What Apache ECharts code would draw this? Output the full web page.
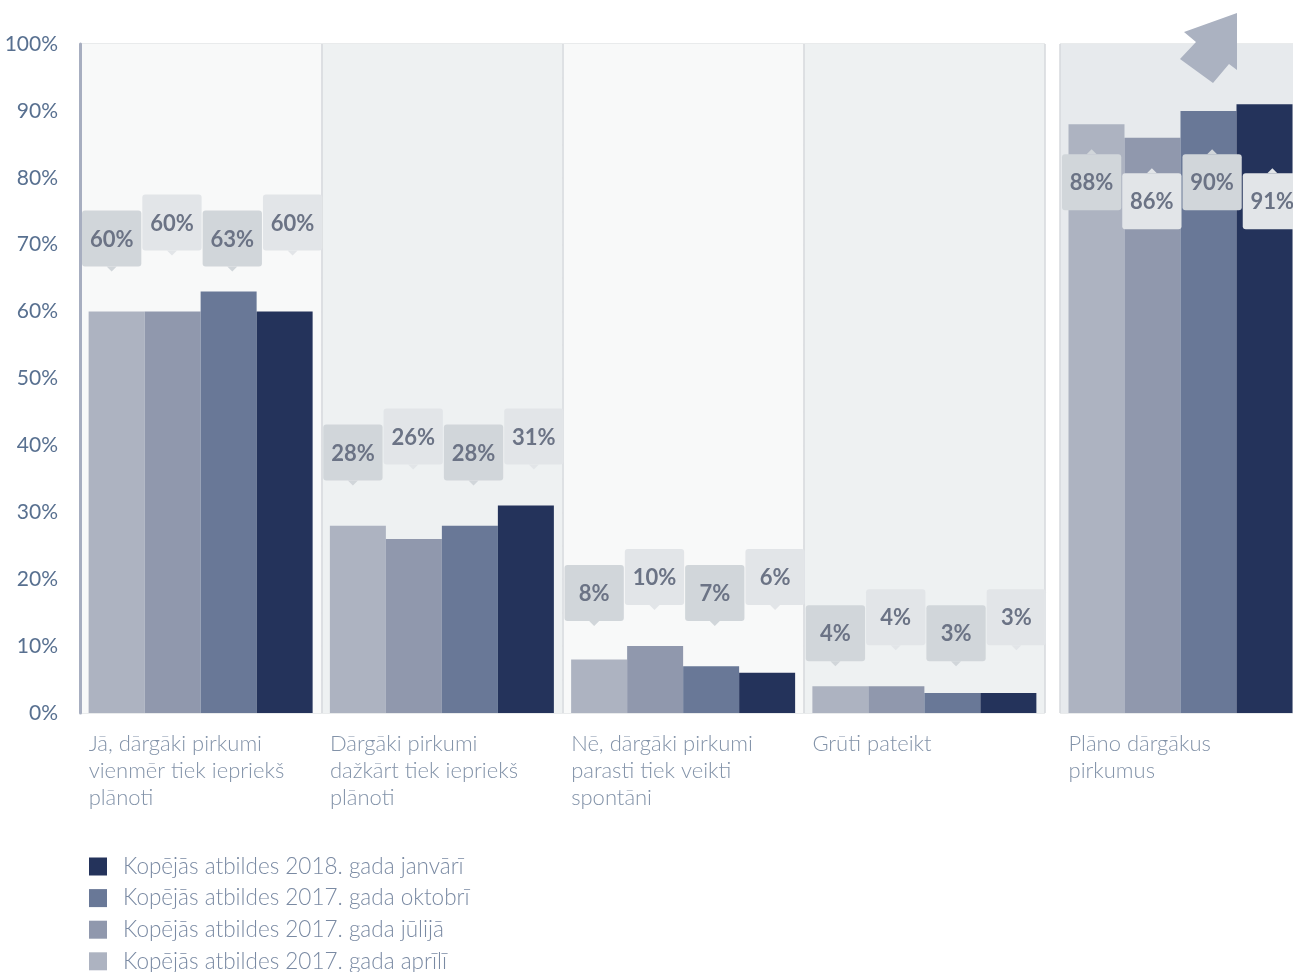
<!DOCTYPE html>
<html>
<head>
<meta charset="utf-8">
<script src="https://cdn.jsdelivr.net/npm/echarts@6/dist/echarts.min.js"></script>
<style>
html,body{margin:0;padding:0;background:#fff;}
#chart{width:1293px;height:972px;}
</style>
</head>
<body>
<div id="chart"></div>
<script>
// ---- data ----
const categories = [
  'Jā, dārgāki pirkumi\nvienmēr tiek iepriekš\nplānoti',
  'Dārgāki pirkumi\ndažkārt tiek iepriekš\nplānoti',
  'Nē, dārgāki pirkumi\nparasti tiek veikti\nspontāni',
  'Grūti pateikt',
  'Plāno dārgākus\npirkumus'
];
const seriesNames = [
  'Kopējās atbildes 2017. gada aprīlī',
  'Kopējās atbildes 2017. gada jūlijā',
  'Kopējās atbildes 2017. gada oktobrī',
  'Kopējās atbildes 2018. gada janvārī'
];
const april2017 = [60, 28, 8, 4, 88];
const july2017 = [60, 26, 10, 4, 86];
const october2017 = [63, 28, 7, 3, 90];
const january2018 = [60, 31, 6, 3, 91];
const yTickLabels = ['0%', '10%', '20%', '30%', '40%', '50%', '60%', '70%', '80%', '90%', '100%'];

// ---- style ----
const colors = ['#adb3c1', '#9098ad', '#697897', '#24335b'];
const FONT = 'Lato, "Open Sans", sans-serif';
const allValues = [april2017, july2017, october2017, january2018];
const splitIndex = 4; // first 4 categories in main panel, last one separate

const chart = echarts.init(document.getElementById('chart'));

function catLabelFormatter(v) {
  return v.split('\n').map(l => '{a|' + l + '}').join('\n');
}

function renderCallout(params, api) {
  const cat = api.value(0), val = api.value(1), k = api.value(2), gmax = api.value(3), below = api.value(4);
  const band = api.size([1, 0])[0];
  const step = band / 4;
  const cx = api.coord([cat, 0])[0] + (k - 1.5) * step + 1.5;
  const topY = api.coord([cat, gmax])[1];
  const w = step - 1, h = 56, ph = 5, pw = 10;
  const first = (k % 2 === 0);
  const fill = first ? '#d1d6da' : '#e2e5e8';
  let boxTop, tri;
  if (!below) {
    const tip = topY - 20 - (first ? 0 : 16);
    boxTop = tip - ph - h;
    tri = [[cx - pw / 2, tip - ph], [cx + pw / 2, tip - ph], [cx, tip]];
  } else {
    const tip = topY + 45 + (first ? 0 : 19);
    boxTop = tip + ph;
    tri = [[cx - pw / 2, tip + ph], [cx + pw / 2, tip + ph], [cx, tip]];
  }
  return {
    type: 'group',
    children: [
      { type: 'rect', shape: { x: cx - w / 2, y: boxTop, width: w, height: h, r: 3 }, style: { fill: fill } },
      { type: 'polygon', shape: { points: tri }, style: { fill: fill } },
      { type: 'text', style: { text: val + '%', x: cx, y: boxTop + h / 2 + 1, align: 'center', verticalAlign: 'middle',
          fontSize: 22, fontWeight: 'bold', fontFamily: FONT, fill: '#6b7385' } }
    ]
  };
}

function calloutData(catStart, catEnd, below) {
  const out = [];
  for (let c = catStart; c < catEnd; c++) {
    const gmax = Math.max(...allValues.map(a => a[c]));
    allValues.forEach((arr, k) => {
      out.push([c - catStart, arr[c], k, gmax, below ? 1 : 0]);
    });
  }
  return out;
}

const xAxisBase = {
  type: 'category',
  axisLine: { show: false },
  axisTick: { show: false },
  axisLabel: {
    interval: 0,
    margin: 17,
    formatter: catLabelFormatter,
    rich: { a: { width: 224, align: 'left', fontSize: 22, lineHeight: 27, color: '#8393a9', fontFamily: FONT, fontWeight: 300 } }
  },
  splitLine: { show: true, lineStyle: { color: '#d6d9dc', width: 1.5 } }
};
const yAxisBase = {
  type: 'value', min: 0, max: 100, interval: 5,
  splitLine: { show: true, lineStyle: { color: '#e2e4e6', width: 1.5 } },
  axisTick: { show: false }
};

const series = [];
allValues.forEach((arr, i) => {
  series.push({
    name: seriesNames[i], type: 'bar', xAxisIndex: 0, yAxisIndex: 0,
    barWidth: 56, barGap: '0%', itemStyle: { color: colors[i] },
    data: arr.slice(0, splitIndex), z: 2
  });
  series.push({
    name: seriesNames[i], type: 'bar', xAxisIndex: 1, yAxisIndex: 1,
    barWidth: 56, barGap: '0%', itemStyle: { color: colors[i] },
    data: arr.slice(splitIndex), z: 2
  });
});
series.push({ type: 'custom', xAxisIndex: 0, yAxisIndex: 0, renderItem: renderCallout, clip: false, z: 5,
  data: calloutData(0, splitIndex, false) });
series.push({ type: 'custom', xAxisIndex: 1, yAxisIndex: 1, renderItem: renderCallout, clip: false, z: 5,
  data: calloutData(splitIndex, categories.length, true) });

const option = {
  animation: false,
  backgroundColor: '#ffffff',
  grid: [
    { left: 80, top: 44, width: 965, height: 669, containLabel: false, outerBoundsMode: 'none' },
    { left: 1060, top: 44, width: 241, height: 669, containLabel: false, outerBoundsMode: 'none' }
  ],
  xAxis: [
    Object.assign({}, xAxisBase, { gridIndex: 0, data: categories.slice(0, splitIndex),
      splitArea: { show: true, areaStyle: { color: ['#f8f9f9', '#eef1f2'] } } }),
    Object.assign({}, xAxisBase, { gridIndex: 1, data: categories.slice(splitIndex),
      splitArea: { show: true, areaStyle: { color: ['#e7eaed'] } } })
  ],
  yAxis: [
    Object.assign({}, yAxisBase, { gridIndex: 0,
      axisLine: { show: true, lineStyle: { color: '#a7aec0', width: 3 } },
      axisLabel: { show: true, margin: 22, fontSize: 21, color: '#587090', fontFamily: FONT,
        formatter: v => (v % 10 === 0 ? yTickLabels[v / 10] : '') } }),
    Object.assign({}, yAxisBase, { gridIndex: 1, axisLine: { show: false }, axisLabel: { show: false } })
  ],
  legend: {
    orient: 'vertical', left: 89, top: 855, height: 200, padding: 0,
    data: seriesNames.slice().reverse(),
    icon: 'rect', itemWidth: 18, itemHeight: 18, itemGap: 8.6,
    textStyle: { fontSize: 22.5, lineHeight: 22, color: '#7a8aa3', fontFamily: FONT, fontWeight: 300, padding: [0, 0, 0, 11] },
    selectedMode: false
  },
  graphic: [{
    type: 'polygon', z: 100,
    shape: { points: [[1184, 32], [1237, 13], [1237, 70], [1229, 64], [1213, 83], [1180, 59], [1196, 42]] },
    style: { fill: '#abb2c1' }
  }],
  series: series
};
chart.setOption(option);
</script>
</body>
</html>
